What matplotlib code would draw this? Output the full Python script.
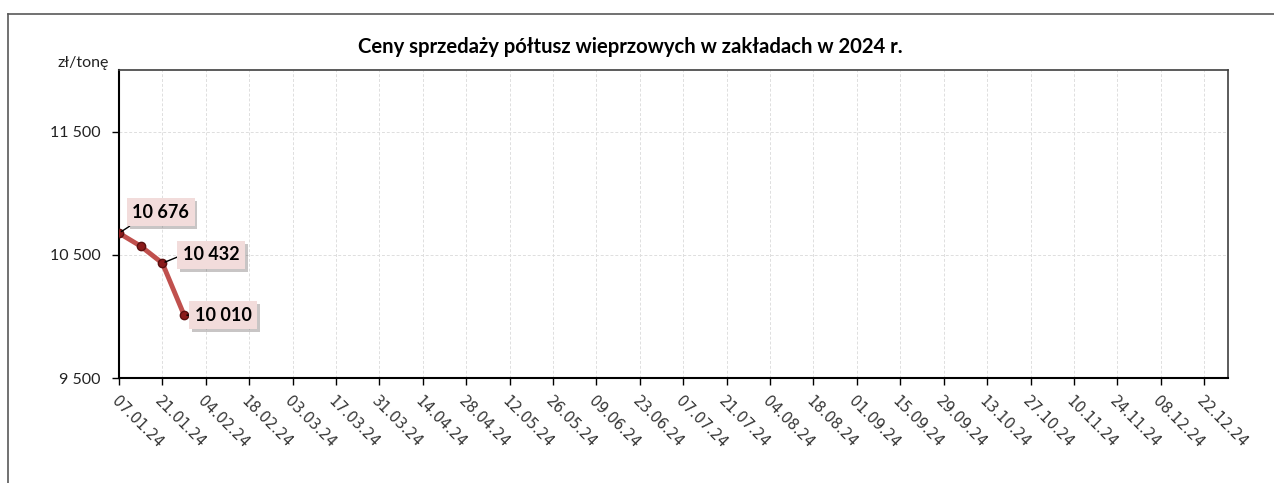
import matplotlib.pyplot as plt
import matplotlib.patheffects as pe
from matplotlib.lines import Line2D
import pandas as pd

# weekly categories for 2024 (one per week), prices in zł/t
weeks = pd.date_range('2024-01-07', periods=52, freq='7D')
week_labels = [d.strftime('%d.%m.%y') for d in weeks]
prices = [10676, 10570, 10432, 10010]
labelled = {0: '10 676', 2: '10 432', 3: '10 010'}
label_offsets = {0: (30, 15), 2: (35, 6), 3: (28, 0)}  # offsets in points
label_anchor = {0: (0.1, 0.0), 2: (0.0, 0.5), 3: (0.0, 0.5)}

y_ticks = [9500, 10500, 11500]
y_tick_labels = ['9 500', '10 500', '11 500']

fig = plt.figure(figsize=(12.74, 4.83), dpi=100)
ax = fig.add_axes([119 / 1274, 1 - 378 / 483, (1228 - 119) / 1274, (378 - 70) / 483])

# outer chart frame (top and left edge visible)
fig.add_artist(Line2D([8 / 1274, 1], [1 - 14 / 483, 1 - 14 / 483],
                      transform=fig.transFigure, color='#595959', lw=1.2))
fig.add_artist(Line2D([8 / 1274, 8 / 1274], [0, 1 - 14 / 483],
                      transform=fig.transFigure, color='#595959', lw=1.2))

x = list(range(len(prices)))
ax.plot(x, prices, color='#C0504D', lw=3.5, solid_capstyle='round', zorder=3)
ax.plot(x, prices, ls='none', marker='o', ms=6, mfc='#8B1A1A', mec='#5a0f0f',
        zorder=4)

for i, txt in labelled.items():
    ax.annotate(txt, (x[i], prices[i]), xytext=label_offsets[i],
                textcoords='offset points', ha='center', va='center',
                fontsize=13, fontweight='bold', family='Lato',
                bbox=dict(boxstyle='square,pad=0.3', fc='#F2DCDB', ec='none',
                          path_effects=[pe.withSimplePatchShadow(offset=(2, -2), alpha=0.3)]),
                arrowprops=dict(arrowstyle='-', color='black', lw=1,
                                shrinkA=0, shrinkB=2, relpos=label_anchor[i]),
                zorder=5)

ax.set_xlim(0, 51.1)
ax.set_ylim(9500, 12000)
ax.set_xticks(range(0, len(weeks), 2))
ax.set_xticklabels(week_labels[::2], rotation=-45, ha='left', rotation_mode='anchor',
                   fontsize=10.5, color='#333333')
ax.set_yticks(y_ticks)
ax.set_yticklabels(y_tick_labels, fontsize=11.5, family='Lato', color='#222222')
ax.tick_params(axis='both', direction='out', length=5, width=1, color='black')
ax.tick_params(axis='x', pad=6)
ax.tick_params(axis='y', pad=8)
ax.grid(True, color='#dedede', ls='--', lw=0.7, dashes=(3, 2))
ax.set_axisbelow(True)
for side in ['top', 'right']:
    ax.spines[side].set_color('#404040')
    ax.spines[side].set_linewidth(1.2)
for side in ['left', 'bottom']:
    ax.spines[side].set_color('black')
    ax.spines[side].set_linewidth(1.5)

fig.text(83 / 1274, 1 - 63 / 483, 'zł/tonę', ha='center', va='center',
         fontsize=11.5, family='Lato', color='#222222')
fig.text(630 / 1274, 1 - 47 / 483, 'Ceny sprzedaży półtusz wieprzowych w zakładach w 2024 r.',
         ha='center', va='center', fontsize=14.6, fontweight='bold', family='Lato')

fig.savefig('out.png', dpi=100)
